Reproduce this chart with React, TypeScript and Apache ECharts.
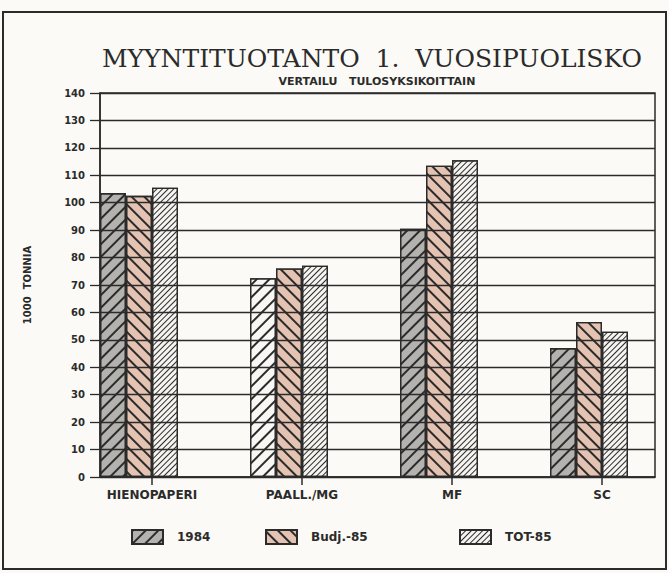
import React, { useEffect, useRef } from 'react';
import * as echarts from 'echarts';

const categories = ['HIENOPAPERI', 'PAALL./MG', 'MF', 'SC'];
const seriesNames = ['1984', 'Budj.-85', 'TOT-85'];
const values1984 = [103.5, 72.5, 90.5, 47];
const valuesBudj = [102.5, 76, 113.5, 56.5];
const valuesTot = [105.5, 77, 115.5, 53];
const yMin = 0;
const yMax = 140;
const yInterval = 10;
const titleText = 'MYYNTITUOTANTO  1.  VUOSIPUOLISKO';
const subTitleText = 'VERTAILU   TULOSYKSIKOITTAIN';
const yAxisName = '1000  TONNIA';

const INK = '#2b2b2b';
const LABEL_FONT = '"DejaVu Sans", sans-serif';

export default function App() {
  const ref = useRef<HTMLDivElement>(null);
  useEffect(() => {
    const chart = echarts.init(ref.current!, null, { renderer: 'svg' });
    const catIdx = categories.map((_, i) => i);
    const xMin = -52 / 150;
    const xMax = 3 + 53 / 150;

    const hatch = (rot: number, line: number, gap: number) => ({
      symbol: 'rect',
      symbolSize: 1,
      dashArrayX: [1, 0],
      dashArrayY: [line, gap],
      rotation: rot,
      color: INK,
    });
    const decal1984 = hatch(-Math.PI / 4, 1.2, 6.4);
    const decalBudj = hatch(Math.PI / 4, 1.2, 6.4);
    const decalTot = hatch(-Math.PI / 4, 1.0, 2.7);

    const barBase = {
      type: 'bar',
      barWidth: 26,
      barGap: '0%',
      z: 2,
    };

    const option: any = {
      animation: false,
      backgroundColor: '#fbfaf6',
      grid: {
        left: 100,
        right: 14,
        top: 93,
        bottom: 96,
        show: true,
        borderColor: INK,
        borderWidth: 1.5,
        backgroundColor: 'transparent',
      },
      xAxis: {
        type: 'value',
        min: xMin,
        max: xMax,
        axisLine: { show: true, onZero: false, lineStyle: { color: INK, width: 1.5 } },
        axisTick: {
          show: true,
          customValues: catIdx,
          length: 8,
          lineStyle: { color: INK, width: 1.5 },
        },
        axisLabel: {
          show: true,
          customValues: catIdx,
          formatter: (v: number) => categories[Math.round(v)] ?? '',
          margin: 12,
          color: INK,
          fontFamily: LABEL_FONT,
          fontWeight: 'bold',
          fontSize: 12,
        },
        splitLine: { show: false },
      },
      yAxis: {
        type: 'value',
        min: yMin,
        max: yMax,
        interval: yInterval,
        z: 3,
        name: yAxisName,
        nameLocation: 'middle',
        nameRotate: 90,
        nameGap: 68,
        nameTextStyle: {
          color: INK,
          fontFamily: LABEL_FONT,
          fontWeight: 'bold',
          fontSize: 10,
        },
        axisLine: { show: true, onZero: false, lineStyle: { color: INK, width: 1.5 } },
        axisTick: { show: true, length: 10, lineStyle: { color: INK, width: 1.3 } },
        axisLabel: {
          margin: 15,
          color: INK,
          fontFamily: LABEL_FONT,
          fontWeight: 'bold',
          fontSize: 10,
        },
        splitLine: { show: true, lineStyle: { color: INK, width: 1.3 } },
      },
      legend: [
        { name: seriesNames[0], left: 126 },
        { name: seriesNames[1], left: 260 },
        { name: seriesNames[2], left: 454 },
      ].map((l) => ({
        data: [l.name],
        left: l.left,
        top: 524,
        icon: 'rect',
        itemWidth: 31,
        itemHeight: 14,
        textStyle: {
          color: INK,
          fontFamily: LABEL_FONT,
          fontWeight: 'bold',
          fontSize: 12,
          padding: [0, 0, 0, 9],
        },
      })),
      graphic: [
        {
          type: 'rect',
          shape: { x: 3, y: 12, width: 663, height: 557 },
          style: { fill: 'none', stroke: INK, lineWidth: 2 },
          silent: true,
        },
        {
          type: 'text',
          x: 372,
          y: 58,
          style: {
            text: titleText,
            fill: INK,
            fontFamily: '"DejaVu Serif", serif',
            fontSize: 25,
            align: 'center',
            verticalAlign: 'middle',
          },
        },
        {
          type: 'text',
          x: 377,
          y: 81,
          style: {
            text: subTitleText,
            fill: INK,
            fontFamily: LABEL_FONT,
            fontWeight: 'bold',
            fontSize: 11,
            align: 'center',
            verticalAlign: 'middle',
          },
        },
      ],
      series: [
        {
          ...barBase,
          name: seriesNames[0],
          itemStyle: { color: '#b3b2ae', borderColor: INK, borderWidth: 1.3, decal: decal1984 },
          data: values1984.map((v, i) =>
            i === 1
              ? { value: [i, v], itemStyle: { color: '#f8f7f3', decal: decal1984 } }
              : [i, v]
          ),
        },
        {
          ...barBase,
          name: seriesNames[1],
          itemStyle: { color: '#e5c3b2', borderColor: INK, borderWidth: 1.3, decal: decalBudj },
          data: valuesBudj.map((v, i) => [i, v]),
        },
        {
          ...barBase,
          name: seriesNames[2],
          itemStyle: { color: '#f6f4f0', borderColor: INK, borderWidth: 1.3, decal: decalTot },
          data: valuesTot.map((v, i) => [i, v]),
        },
        {
          ...barBase,
          name: '_pad',
          silent: true,
          itemStyle: { color: 'transparent' },
          data: catIdx.map((i) => [i, null]),
        },
      ],
    };
    chart.setOption(option);
    return () => chart.dispose();
  }, []);
  return (
    <div
      ref={ref}
      style={{ position: 'absolute', left: 0, top: 0, width: 669, height: 573 }}
    />
  );
}
